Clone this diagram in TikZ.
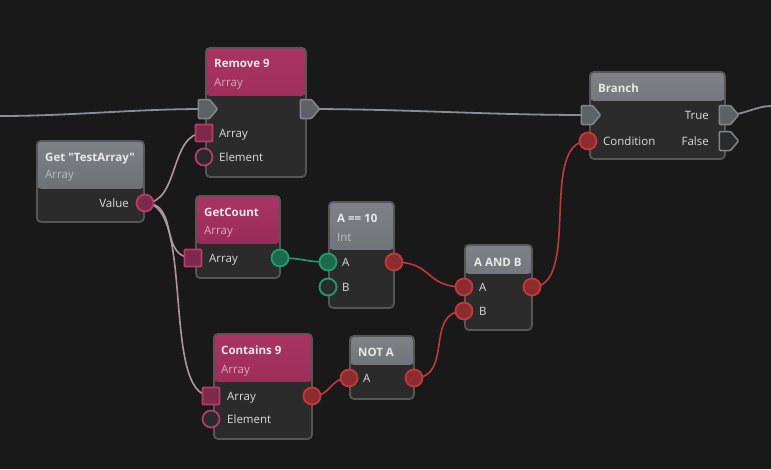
\documentclass[tikz,border=0pt]{standalone}
\usepackage{fontspec}
\setmainfont{Open Sans}
\newfontfamily\uiface{Open Sans}
\usetikzlibrary{shapes.symbols}
\definecolor{canvas}{RGB}{25, 25, 25}
\definecolor{nodebody}{RGB}{43, 43, 43}
\definecolor{nodeborder}{RGB}{86, 86, 86}
\definecolor{pinktop}{RGB}{170, 52, 98}
\definecolor{pinkbot}{RGB}{140, 40, 78}
\definecolor{graytop}{RGB}{126, 130, 135}
\definecolor{graybot}{RGB}{98, 102, 107}
\definecolor{titletext}{RGB}{232, 232, 232}
\definecolor{pinksub}{RGB}{218, 170, 188}
\definecolor{graysub}{RGB}{186, 190, 194}
\definecolor{labeltext}{RGB}{220, 220, 220}
\definecolor{execfill}{RGB}{94, 98, 102}
\definecolor{execline}{RGB}{130, 134, 138}
\definecolor{pinkfill}{RGB}{125, 42, 74}
\definecolor{pinkline}{RGB}{182, 58, 106}
\definecolor{greenfill}{RGB}{26, 106, 78}
\definecolor{greenline}{RGB}{36, 154, 112}
\definecolor{redfill}{RGB}{140, 44, 46}
\definecolor{redline}{RGB}{194, 57, 60}
\definecolor{arraywire}{RGB}{172, 150, 160}
\definecolor{execwire}{RGB}{138, 142, 146}
\newcommand{\uifont}{\uiface\fontsize{11.5}{14}\selectfont}
\pgfdeclarelayer{bg}
\pgfdeclarelayer{wires}
\pgfsetlayers{bg,wires,main}
\begin{document}
\begin{tikzpicture}[
        x=1pt, y=-1pt,
        block/.style={draw=nodeborder, line width=1.8pt, rounded corners=4pt,
            fill=nodebody, anchor=north west, inner sep=0pt},
        head/.style n args={3}{path picture={
            \shade[top color=#1, bottom color=#2] (path picture bounding box.north west)
                rectangle ([yshift=-#3]path picture bounding box.north east);}},
        pinkhead/.style={head={pinktop}{pinkbot}{48pt}},
        grayhead/.style={head={graytop}{graybot}{48pt}},
        grayhead short/.style={head={graytop}{graybot}{29pt}},
        title/.style={font=\uifont\bfseries, text=titletext, anchor=base west, inner sep=0pt},
        pinksubtitle/.style={font=\uifont, text=pinksub, anchor=base west, inner sep=0pt},
        graysubtitle/.style={font=\uifont, text=graysub, anchor=base west, inner sep=0pt},
        lbl/.style={font=\uifont, text=labeltext, anchor=base west, inner sep=0pt},
        lbl right/.style={lbl, anchor=base east},
        execpin/.style={shape=signal, signal to=east, signal pointer angle=100,
            minimum width=19pt, minimum height=19pt, inner sep=0pt, rounded corners=1pt,
            fill=execfill, draw=execline, line width=1.5pt},
        execpin hollow/.style={execpin, fill=nodebody},
        arraypin/.style={rectangle, minimum size=17pt, inner sep=0pt, rounded corners=1pt,
            fill=pinkfill, draw=pinkline, line width=1.8pt},
        pinkpin/.style={circle, minimum size=17pt, inner sep=0pt,
            fill=pinkfill, draw=pinkline, line width=1.8pt},
        pinkpin hollow/.style={pinkpin, fill=nodebody},
        greenpin/.style={pinkpin, fill=greenfill, draw=greenline},
        greenpin hollow/.style={greenpin, fill=nodebody},
        redpin/.style={pinkpin, fill=redfill, draw=redline},
        wire/.style={line width=1.6pt},
        execwire/.style={wire, draw=execwire, line width=1.8pt},
        arraywire/.style={wire, draw=arraywire},
        greenwire/.style={wire, draw=greenline},
        redwire/.style={wire, draw=redline}
    ]
    \useasboundingbox (0,0) rectangle (771,469);
    \begin{pgfonlayer}{bg}
        \fill[canvas] (0,0) rectangle (771,469);
    \end{pgfonlayer}

    % blocks
    \node[block, grayhead, minimum width=107pt, minimum height=81pt] (get) at (36,140) {};
    \node[block, pinkhead, minimum width=100pt, minimum height=129pt] (rem) at (205,47) {};
    \node[block, pinkhead, minimum width=84pt, minimum height=82pt] (cnt) at (195,195) {};
    \node[block, grayhead, minimum width=65pt, minimum height=106pt] (eq) at (328,201) {};
    \node[block, pinkhead, minimum width=98pt, minimum height=105pt] (has) at (213,333) {};
    \node[block, grayhead short, minimum width=64pt, minimum height=63pt] (not) at (349,335) {};
    \node[block, grayhead short, minimum width=67pt, minimum height=85pt] (and) at (464,244) {};
    \node[block, grayhead short, minimum width=135pt, minimum height=87pt] (br) at (589,71) {};

    % titles
    \node[title] (get-t) at (45,161) {Get "TestArray"};
    \node[graysubtitle] (get-s) at (45,178) {Array};
    \node[title] (rem-t) at (214,67) {Remove 9};
    \node[pinksubtitle] (rem-s) at (214,86) {Array};
    \node[title] (cnt-t) at (204,216) {GetCount};
    \node[pinksubtitle] (cnt-s) at (204,234) {Array};
    \node[title] (eq-t) at (337,222) {A == 10};
    \node[graysubtitle] (eq-s) at (337,241) {Int};
    \node[title] (has-t) at (221,354) {Contains 9};
    \node[pinksubtitle] (has-s) at (221,373) {Array};
    \node[title] (not-t) at (358,356) {NOT A};
    \node[title] (and-t) at (474,266) {A AND B};
    \node[title] (br-t) at (598,92) {Branch};

    % pins
    \node[pinkpin] (get-val) at (145,203) {};
    \node[execpin] (rem-in) at (204,109) {};
    \node[execpin] (rem-out) at (306,109) {};
    \node[arraypin] (rem-arr) at (204,133) {};
    \node[pinkpin hollow] (rem-el) at (204,157) {};
    \node[arraypin] (cnt-arr) at (193,258) {};
    \node[greenpin] (cnt-out) at (280,258) {};
    \node[greenpin] (eq-a) at (328,262) {};
    \node[greenpin hollow] (eq-b) at (328,287) {};
    \node[redpin] (eq-out) at (394,262) {};
    \node[arraypin] (has-arr) at (211,396) {};
    \node[pinkpin hollow] (has-el) at (211,419) {};
    \node[redpin] (has-out) at (312,396) {};
    \node[redpin] (not-a) at (349,378) {};
    \node[redpin] (not-out) at (414,378) {};
    \node[redpin] (and-a) at (464,287) {};
    \node[redpin] (and-b) at (464,311) {};
    \node[redpin] (and-out) at (532,287) {};
    \node[execpin] (br-in) at (587,115) {};
    \node[redpin] (br-cond) at (588,141) {};
    \node[execpin] (br-true) at (725,115) {};
    \node[execpin hollow] (br-false) at (725,141) {};

    % pin labels
    \node[lbl right] (get-val-l) at (129,207) {Value};
    \node[lbl] (rem-arr-l) at (219,137) {Array};
    \node[lbl] (rem-el-l) at (219,161) {Element};
    \node[lbl] (cnt-arr-l) at (209,262) {Array};
    \node[lbl] (eq-a-l) at (342,266) {A};
    \node[lbl] (eq-b-l) at (342,291) {B};
    \node[lbl] (has-arr-l) at (227,400) {Array};
    \node[lbl] (has-el-l) at (227,423) {Element};
    \node[lbl] (not-a-l) at (363,382) {A};
    \node[lbl] (and-a-l) at (479,291) {A};
    \node[lbl] (and-b-l) at (479,315) {B};
    \node[lbl] (br-cond-l) at (603,145) {Condition};
    \node[lbl right] (br-true-l) at (709,119) {True};
    \node[lbl right] (br-false-l) at (709,145) {False};

    \coordinate (flow-in) at (0,116);
    \coordinate (flow-out) at (771,106);

    % wires
    \begin{pgfonlayer}{wires}
        \draw[execwire] (flow-in) .. controls +(70,0) and +(-70,0) .. (rem-in.center);
        \draw[execwire] (rem-out.center) .. controls +(100,0) and +(-100,0) .. (br-in.center);
        \draw[execwire] (br-true.center) .. controls +(20,0) and +(-15,0) .. (flow-out);
        \draw[arraywire] (get-val.center) .. controls +(35,0) and +(-35,0) .. (rem-arr.center);
        \draw[arraywire] (get-val.center) .. controls +(35,0) and +(-35,0) .. (cnt-arr.center);
        \draw[arraywire] (get-val.center) .. controls +(50,0) and +(-50,0) .. (has-arr.center);
        \draw[greenwire] (cnt-out.center) .. controls +(25,0) and +(-25,0) .. (eq-a.center);
        \draw[redwire] (eq-out.center) .. controls +(40,0) and +(-40,0) .. (and-a.center);
        \draw[redwire] (has-out.center) .. controls +(20,0) and +(-20,0) .. (not-a.center);
        \draw[redwire] (not-out.center) .. controls +(40,0) and +(-40,0) .. (and-b.center);
        \draw[redwire] (and-out.center) .. controls +(50,0) and +(-50,0) .. (br-cond.center);
    \end{pgfonlayer}
\end{tikzpicture}
\end{document}
